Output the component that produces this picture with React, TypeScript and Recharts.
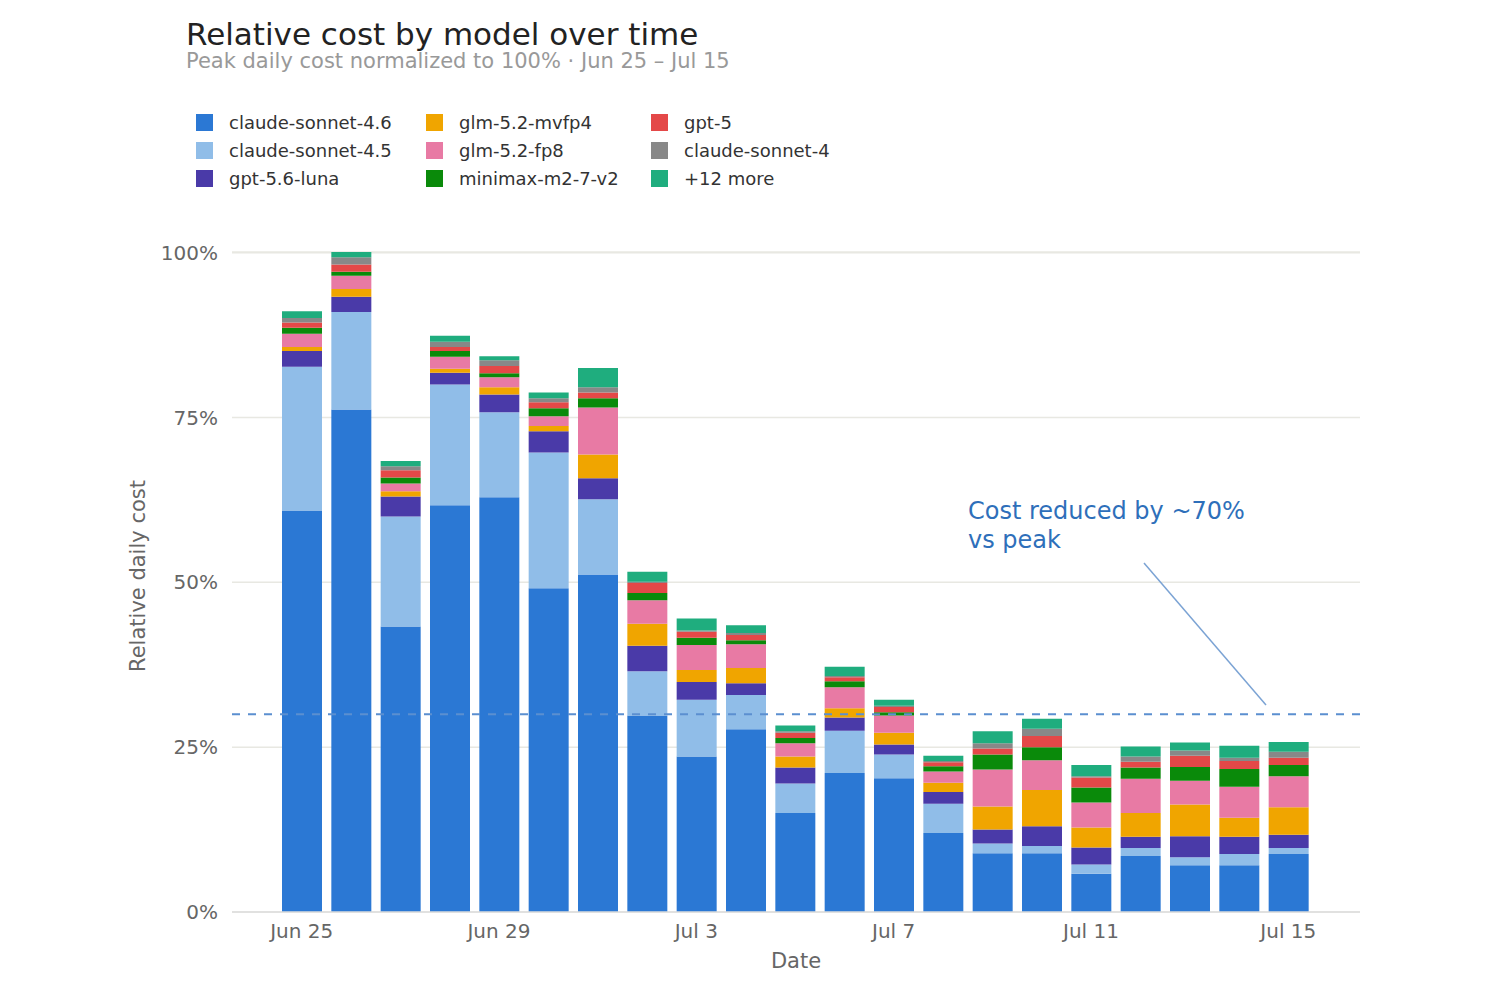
import React from "react";
import { BarChart, Bar, XAxis, YAxis, CartesianGrid, ReferenceLine } from "recharts";

const dates = ["Jun 25","Jun 26","Jun 27","Jun 28","Jun 29","Jun 30","Jul 1","Jul 2","Jul 3","Jul 4","Jul 5","Jul 6","Jul 7","Jul 8","Jul 9","Jul 10","Jul 11","Jul 12","Jul 13","Jul 14","Jul 15"];
const sonnet46 = [60.9,76.2,43.3,61.7,62.9,49.1,51.2,29.8,23.6,27.7,15.0,21.1,20.3,12.0,8.9,8.9,5.8,8.5,7.1,7.1,8.8];
const sonnet45 = [21.8,14.8,16.7,18.3,12.9,20.6,11.4,6.7,8.6,5.2,4.5,6.4,3.6,4.4,1.5,1.1,1.4,1.2,1.2,1.7,0.9];
const luna = [2.4,2.3,3.0,1.8,2.7,3.2,3.2,3.9,2.7,1.8,2.4,2.0,1.5,1.8,2.1,3.0,2.6,1.7,3.2,2.6,2.0];
const mvfp4 = [0.6,1.2,0.8,0.6,1.1,0.8,3.6,3.3,1.8,2.3,1.7,1.4,1.8,1.4,3.5,5.5,3.0,3.6,4.8,2.9,4.2];
const fp8 = [2.0,2.0,1.2,1.8,1.5,1.5,7.1,3.6,3.8,3.6,2.0,3.2,2.6,1.7,5.6,4.5,3.8,5.2,3.6,4.7,4.7];
const minimax = [0.9,0.6,0.9,0.9,0.6,1.2,1.4,1.1,1.1,0.6,0.8,0.9,0.5,0.8,2.3,2.0,2.3,1.7,2.1,2.7,1.7];
const gpt5 = [0.8,1.1,1.1,0.6,1.1,0.9,0.9,1.5,0.9,0.8,0.8,0.6,0.8,0.6,0.9,1.7,1.5,0.9,1.7,1.2,1.1];
const sonnet4 = [0.7,1.1,0.6,0.8,0.9,0.6,0.8,0.2,0.2,0.3,0.2,0.2,0.2,0.2,0.8,1.1,0.2,0.8,0.8,0.5,0.9];
const more = [1.0,0.8,0.8,0.9,0.6,0.9,2.9,1.5,1.8,1.2,0.9,1.4,0.9,0.8,1.8,1.5,1.7,1.5,1.2,1.8,1.5];
const xTicks = ["Jun 25","Jun 29","Jul 3","Jul 7","Jul 11","Jul 15"];
const yTicks = [0,25,50,75,100];

const series = [
  { key: "claude-sonnet-4.6", values: sonnet46, color: "#2b78d4" },
  { key: "claude-sonnet-4.5", values: sonnet45, color: "#90bde8" },
  { key: "gpt-5.6-luna", values: luna, color: "#4a3aa8" },
  { key: "glm-5.2-mvfp4", values: mvfp4, color: "#f0a500" },
  { key: "glm-5.2-fp8", values: fp8, color: "#e87aa4" },
  { key: "minimax-m2-7-v2", values: minimax, color: "#0a8a0a" },
  { key: "gpt-5", values: gpt5, color: "#e44848" },
  { key: "claude-sonnet-4", values: sonnet4, color: "#888888" },
  { key: "+12 more", values: more, color: "#1fad7e" },
];

const data = dates.map((d, i) => {
  const row: any = { date: d };
  series.forEach((s) => (row[s.key] = s.values[i]));
  return row;
});

const legendCols = [[0, 1, 2], [3, 4, 5], [6, 7, 8]];
const colX = [196, 426, 651];
const FONT = "DejaVu Sans, sans-serif";

export default function App() {
  return (
    <div style={{ position: "absolute", left: 0, top: 0, width: 1500, height: 1000, background: "#fff", fontFamily: FONT }}>
      <div style={{ position: "absolute", left: 186, top: 16, fontSize: 31, color: "#222" }}>Relative cost by model over time</div>
      <div style={{ position: "absolute", left: 186, top: 49, fontSize: 21, color: "#999" }}>Peak daily cost normalized to 100% · Jun 25 – Jul 15</div>
      {legendCols.map((col, ci) =>
        col.map((si, ri) => (
          <div key={si} style={{ position: "absolute", left: colX[ci], top: 112 + ri * 28, display: "flex", alignItems: "center", fontSize: 18, color: "#333" }}>
            <span style={{ display: "inline-block", width: 17, height: 17, background: series[si].color, marginRight: 16 }} />
            {series[si].key}
          </div>
        ))
      )}
      <div style={{ position: "absolute", left: 138, top: 576, transform: "translate(-50%,-50%) rotate(-90deg)", fontSize: 21, color: "#666", whiteSpace: "nowrap" }}>Relative daily cost</div>
      <div style={{ position: "absolute", left: 796, top: 961, transform: "translate(-50%,-50%)", fontSize: 21, color: "#666" }}>Date</div>
      <div style={{ position: "absolute", left: 968, top: 497, fontSize: 24, color: "#2e6fba", lineHeight: "29px" }}>Cost reduced by ~70%<br />vs peak</div>
      <svg style={{ position: "absolute", left: 0, top: 0, pointerEvents: "none", zIndex: 2 }} width={1500} height={1000}>
        <line x1={1144} y1={563} x2={1266} y2={705} stroke="#7ba3d4" strokeWidth={1.5} />
      </svg>
      <div style={{ position: "absolute", left: 0, top: 0 }}>
        <BarChart width={1500} height={1000} data={data} margin={{ top: 252, right: 140, bottom: 58, left: 172 }} barSize={40}>
          <CartesianGrid vertical={false} stroke="#e8e8e2" strokeWidth={1.5} />
          <XAxis dataKey="date" ticks={xTicks} interval={0} height={30} padding={{ left: 45, right: 47 }}
            tickLine={false} axisLine={{ stroke: "#ddd", strokeWidth: 1.5 }} tick={{ fontSize: 20, fill: "#666", fontFamily: FONT }} tickMargin={6} />
          <YAxis width={60} domain={[0, 100]} ticks={yTicks} tickFormatter={(v) => v + "%"} axisLine={false} tickLine={false}
            tick={{ fontSize: 20, fill: "#666", fontFamily: FONT }} tickMargin={8} />
          {series.map((s) => (
            <Bar key={s.key} dataKey={s.key} stackId="a" fill={s.color} isAnimationActive={false} />
          ))}
          <ReferenceLine y={30} stroke="#5b8fd0" strokeDasharray="8 8" strokeWidth={2} />
        </BarChart>
      </div>
    </div>
  );
}
